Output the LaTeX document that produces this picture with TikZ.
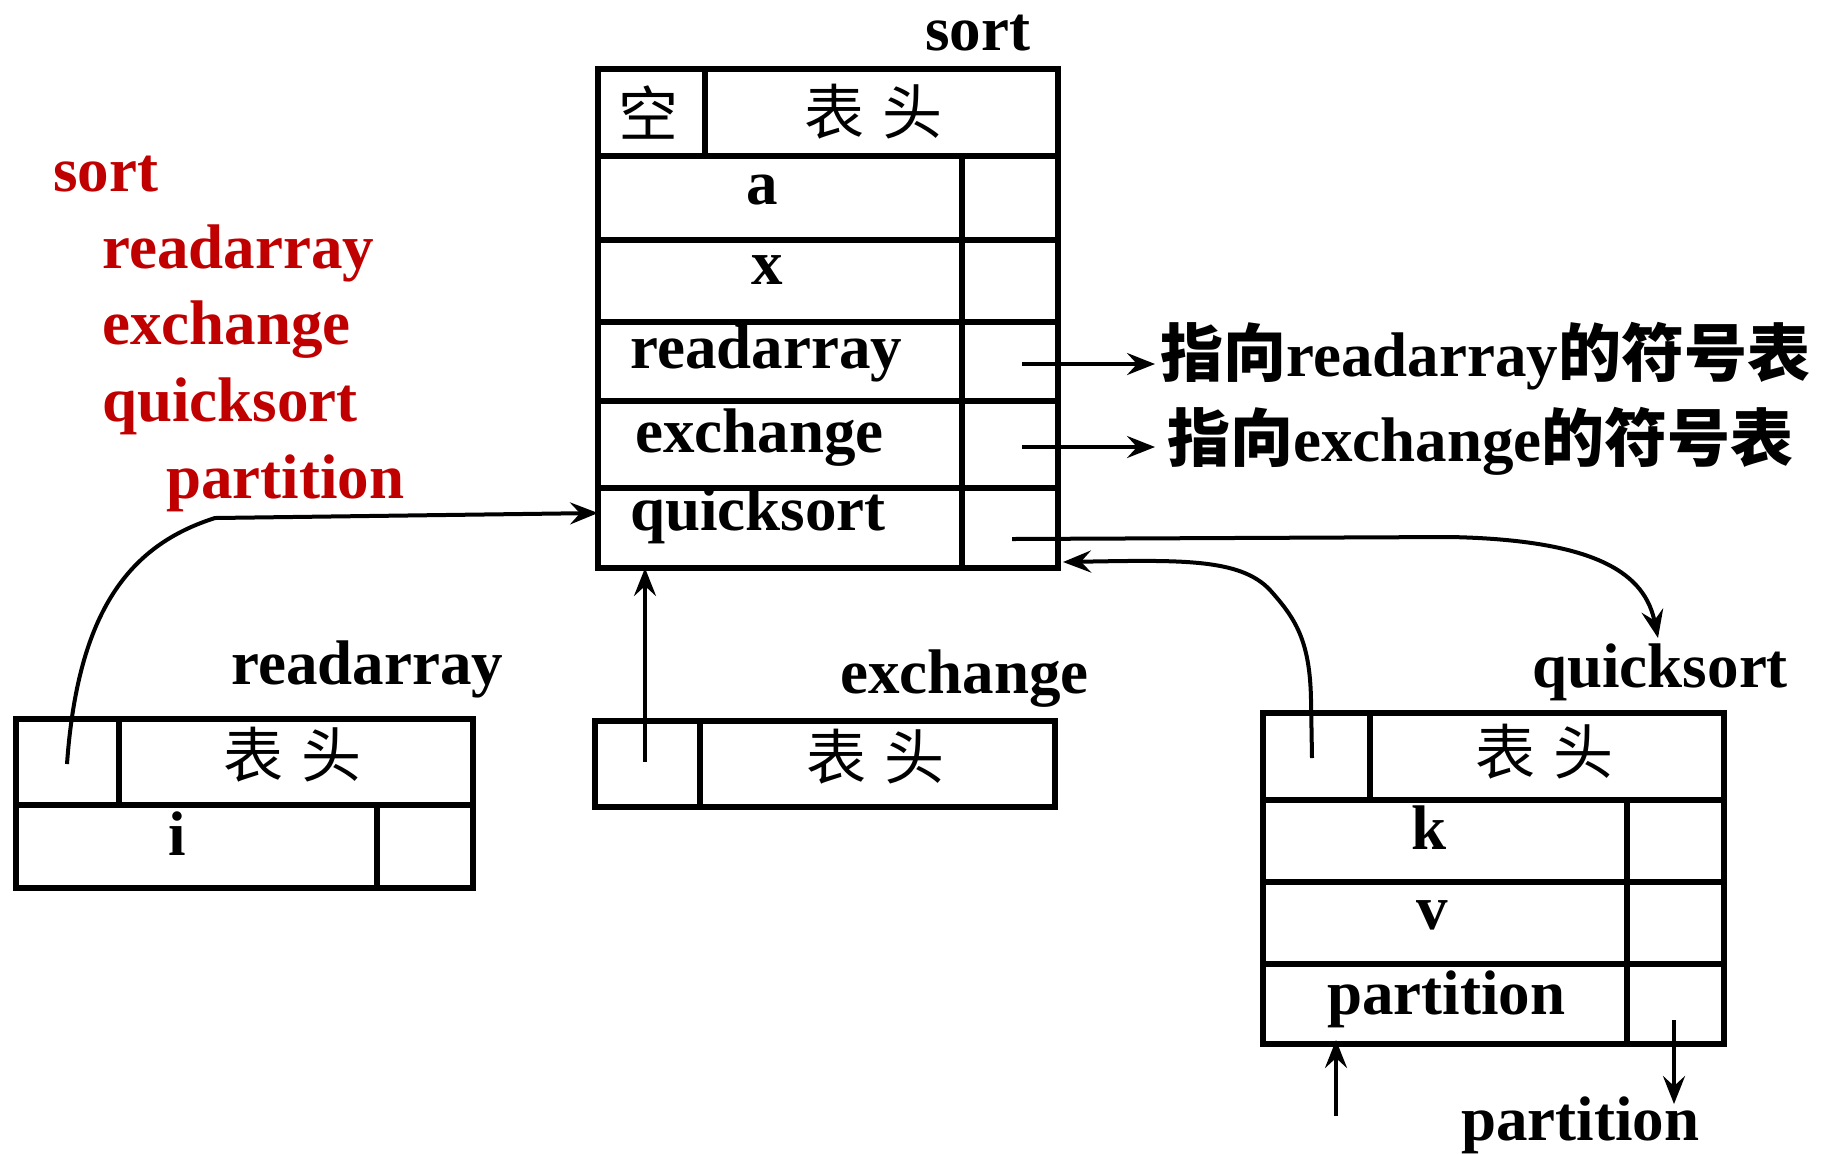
\documentclass[tikz,border=0pt]{standalone}
\usepackage{fontspec}
\setmainfont{Liberation Serif}
\newfontfamily\cjk{Noto Sans CJK SC}
\usetikzlibrary{arrows.meta,calc}
\definecolor{listred}{RGB}{192,0,0}

\tikzset{
  frame/.style={line width=2.6pt, line cap=rect},
  lbl/.style={font=\fontsize{31.5pt}{32pt}\selectfont\bfseries, inner sep=0pt, anchor=base west},
  clbl/.style={lbl, anchor=base},
  redlbl/.style={lbl, text=listred},
  head/.style={font=\cjk\fontsize{30pt}{31pt}\selectfont, inner sep=0pt},
  note/.style={font=\fontsize{31.5pt}{32pt}\selectfont\bfseries, inner sep=0pt, anchor=west},
  ptr/.style={line width=2pt, -{Stealth[length=14pt,width=11pt,inset=5pt]}}
}

\begin{document}
\begin{tikzpicture}[x=0.5pt,y=-0.5pt]
\useasboundingbox (0,0) rectangle (1829,1153);

% ---------- nesting of the procedures ----------
\node[redlbl] (lsort) at (53,191) {sort};
\node[redlbl] (lread) at (102,268) {readarray};
\node[redlbl] (lexch) at (102,344) {exchange};
\node[redlbl] (lquick) at (102,421) {quicksort};
\node[redlbl] (lpart) at (166,498) {partition};

% ---------- symbol table of sort ----------
\draw[frame] (598,69) rectangle (1058,568);
\draw[frame] (598,156) -- (1058,156);
\draw[frame] (598,240) -- (1058,240);
\draw[frame] (598,322) -- (1058,322);
\draw[frame] (598,401) -- (1058,401);
\draw[frame] (598,488) -- (1058,488);
\draw[frame] (705,74) -- (705,152);
\draw[frame] (962,156) -- (962,568);
\node[lbl] (tsort) at (925,50) {sort};
\node[head] (sempty) at (648,112) {空};
\node[head] (shead) at (873,112) {表\hspace{9pt}头};
\node[clbl] (sa) at (762,204) {a};
\node[clbl] (sx) at (767,284) {x};
\node[lbl] (sread) at (630,368) {readarray};
\node[lbl] (sexch) at (635,452) {exchange};
\node[lbl] (squick) at (630,530) {quicksort};

\coordinate (readStub) at (1022,364);
\coordinate (readTip) at (1155,364);
\coordinate (exchStub) at (1022,447);
\coordinate (exchTip) at (1155,447);
\coordinate (quickStub) at (1012,539);
\coordinate (sortLeftIn) at (598,513);
\coordinate (sortBottomIn) at (645,568);
\coordinate (sortRightIn) at (1063,562);

\node[note] (nread) at (1160,356) {{\cjk 指向}readarray{\cjk 的符号表}};
\node[note] (nexch) at (1167,441) {{\cjk 指向}exchange{\cjk 的符号表}};

% ---------- symbol table of readarray ----------
\draw[frame] (16,719) rectangle (473,888);
\draw[frame] (16,805) -- (473,805);
\draw[frame] (119,719) -- (119,805);
\draw[frame] (377,805) -- (377,888);
\node[lbl] (tread) at (231,684) {readarray};
\node[head] (rhead) at (292,755) {表\hspace{9pt}头};
\node[clbl] (ri) at (177,855) {i};
\coordinate (readLink) at (67,764);

% ---------- symbol table of exchange ----------
\draw[frame] (595,721) rectangle (1055,807);
\draw[frame] (700,721) -- (700,807);
\node[lbl] (texch) at (840,693) {exchange};
\node[head] (ehead) at (875,757) {表\hspace{9pt}头};
\coordinate (exchLink) at (645,762);

% ---------- symbol table of quicksort ----------
\draw[frame] (1263,713) rectangle (1724,1044);
\draw[frame] (1263,800) -- (1724,800);
\draw[frame] (1263,882) -- (1724,882);
\draw[frame] (1263,964) -- (1724,964);
\draw[frame] (1370,713) -- (1370,800);
\draw[frame] (1627,800) -- (1627,1044);
\node[lbl] (tquick) at (1532,687) {quicksort};
\node[head] (qhead) at (1544,752) {表\hspace{9pt}头};
\node[clbl] (qk) at (1429,849) {k};
\node[clbl] (qv) at (1432,929) {v};
\node[lbl] (qpart) at (1327,1014) {partition};
\node[lbl] (tpart) at (1461,1140) {partition};
\coordinate (quickLink) at (1312,758);
\coordinate (quickTop) at (1658,638);
\coordinate (partUpFrom) at (1336,1116);
\coordinate (partUpTo) at (1336,1040);
\coordinate (partDownFrom) at (1674,1020);
\coordinate (partDownTo) at (1674,1104);

% ---------- pointers ----------
\draw[ptr] (readStub) -- (readTip);
\draw[ptr] (exchStub) -- (exchTip);
\draw[ptr] (readLink) .. controls (78,610) and (130,545) .. (215,518) -- (sortLeftIn);
\draw[ptr] (exchLink) -- (sortBottomIn);
\draw[ptr] (quickLink) -- (1311,700) .. controls (1310,640) and (1295,618) .. (1270,590)
           .. controls (1240,558) and (1180,560) .. (sortRightIn);
\draw[ptr] (quickStub) -- (1450,537) .. controls (1600,540) and (1645,575) .. (quickTop);
\draw[ptr] (partUpFrom) -- (partUpTo);
\draw[ptr] (partDownFrom) -- (partDownTo);
\end{tikzpicture}
\end{document}
